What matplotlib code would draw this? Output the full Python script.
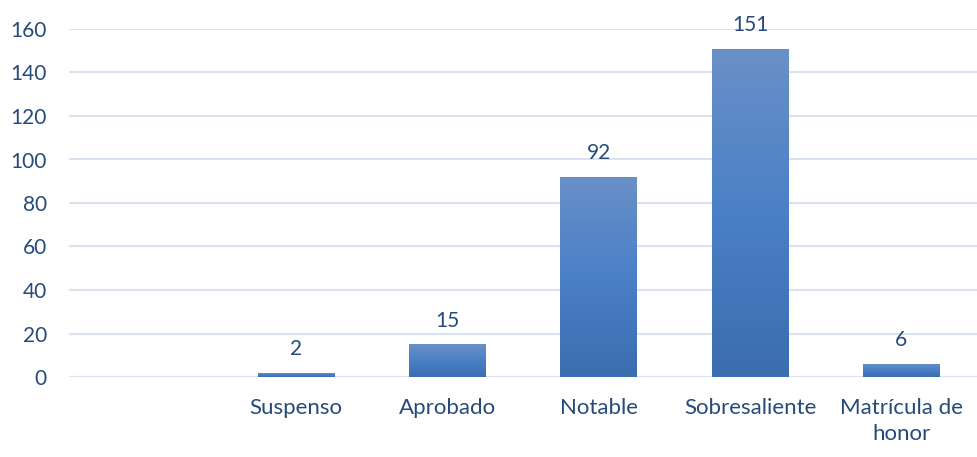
import matplotlib
matplotlib.use("Agg")
import matplotlib.pyplot as plt
import numpy as np
from matplotlib.colors import LinearSegmentedColormap

categories = ["", "Suspenso", "Aprobado", "Notable", "Sobresaliente", "Matrícula de\nhonor"]
values = [0, 2, 15, 92, 151, 6]
labels_shown = [False, True, True, True, True, True]
yticks = [0, 20, 40, 60, 80, 100, 120, 140, 160]

plt.rcParams['font.family'] = ['Lato', 'DejaVu Sans']
text_color = "#264a7a"
grid_color = "#d9e2f1"

fig = plt.figure(figsize=(9.77, 4.57), dpi=100)
ax = fig.add_axes([69/977, (457-377)/457, 1 - 69/977, (377-29)/457])

x = np.arange(len(categories))
bars = ax.bar(x, values, width=0.505, color="#4a7ec2", zorder=2)

cmap = LinearSegmentedColormap.from_list("g", ["#3b6daf", "#4a80c6", "#6a90c8"])
grad = np.linspace(0, 1, 256).reshape(-1, 1)
for b, v in zip(bars, values):
    if v <= 0:
        continue
    b.set_facecolor("none")
    x0, w = b.get_x(), b.get_width()
    im = ax.imshow(grad, cmap=cmap, aspect="auto", origin="lower",
                   extent=[x0, x0 + w, 0, v], zorder=2)
    im.set_clip_path(b)

for xi, v, show in zip(x, values, labels_shown):
    if show:
        ax.annotate(str(v), (xi, v), xytext=(0, 17), textcoords="offset points",
                    ha="center", va="center", fontsize=15, color=text_color)

ax.set_xlim(-0.5, len(categories) - 0.5)
ax.set_ylim(0, 160)
ax.set_yticks(yticks)
ax.set_xticks(x)
ax.set_xticklabels(categories, fontsize=16, color=text_color, linespacing=1.4)
ax.tick_params(axis="y", labelsize=15, colors=text_color, length=0, pad=16)
ax.tick_params(axis="x", length=0, pad=15)
ax.grid(axis="y", color=grid_color, linewidth=1.5, zorder=0)
ax.set_axisbelow(True)
for s in ax.spines.values():
    s.set_visible(False)
ax.axhline(0, color=grid_color, linewidth=1.5, zorder=1)

fig.savefig("out.png", dpi=100)
